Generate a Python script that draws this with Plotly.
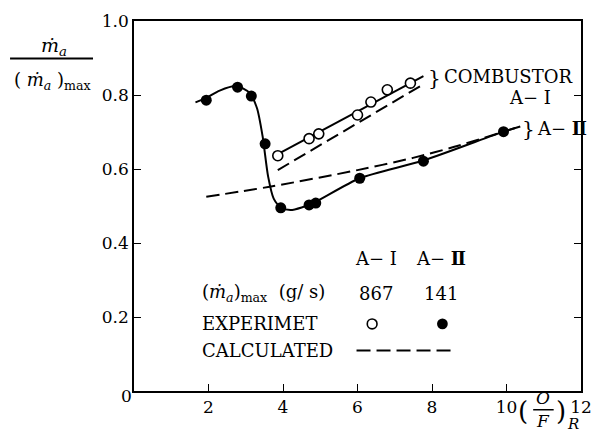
import plotly.graph_objects as go

# ---- data -------------------------------------------------------------
# Combustor A-I : experiment (open circles), fitted line, calculated line
a1_exp_x = [3.86, 4.70, 4.96, 6.00, 6.36, 6.80, 7.42]
a1_exp_y = [0.636, 0.682, 0.695, 0.746, 0.781, 0.814, 0.832]
a1_fit_x = [3.86, 7.77]
a1_fit_y = [0.640, 0.851]
a1_calc_x = [3.86, 7.77]
a1_calc_y = [0.597, 0.829]

# Combustor A-II : experiment (filled circles), fitted curve, calculated curve
a2_exp_x = [1.94, 2.78, 3.15, 3.52, 3.94, 4.70, 4.88, 6.06, 7.77, 9.92]
a2_exp_y = [0.786, 0.821, 0.797, 0.668, 0.495, 0.503, 0.508, 0.575, 0.621, 0.701]
a2_fit_x = [1.65, 1.94, 2.30, 2.75, 3.10, 3.30, 3.45, 3.60, 3.75, 3.95,
            4.20, 4.50, 4.85, 6.06, 7.77, 9.92, 10.37]
a2_fit_y = [0.780, 0.792, 0.812, 0.824, 0.806, 0.765, 0.690, 0.580, 0.520, 0.496,
            0.489, 0.496, 0.510, 0.575, 0.623, 0.701, 0.715]
a2_calc_x = [1.94, 3.64, 6.00, 7.49, 8.60, 10.37]
a2_calc_y = [0.525, 0.552, 0.597, 0.630, 0.660, 0.715]

# key table
key_names = ["A\u2212 I", "A\u2212 <b>\u2161</b>"]
key_flow = ["867", "141"]

x_ticks = [2, 4, 6, 8, 10, 12]
y_ticks = [0.2, 0.4, 0.6, 0.8, 1.0]

# ---- page geometry ----------------------------------------------------
W, H = 603, 435
L, R, T, B = 134, 11, 16, 44
PW, PH = W - L - R, H - T - B

def px(xp):
    return (xp - L) / PW

def py(yp):
    return (H - B - yp) / PH

FONT = "DejaVu Serif"
INK = "black"

fig = go.Figure()

fig.add_trace(go.Scatter(x=a2_calc_x, y=a2_calc_y, mode="lines",
                         line=dict(color=INK, width=2, dash="13px,6px", shape="spline",
                                   smoothing=0.8),
                         hoverinfo="skip"))
fig.add_trace(go.Scatter(x=a1_calc_x, y=a1_calc_y, mode="lines",
                         line=dict(color=INK, width=2, dash="13px,6px"),
                         hoverinfo="skip"))
fig.add_trace(go.Scatter(x=a1_fit_x, y=a1_fit_y, mode="lines",
                         line=dict(color=INK, width=2), hoverinfo="skip"))
fig.add_trace(go.Scatter(x=a2_fit_x, y=a2_fit_y, mode="lines",
                         line=dict(color=INK, width=2, shape="spline", smoothing=0.7),
                         hoverinfo="skip"))
fig.add_trace(go.Scatter(x=a1_exp_x, y=a1_exp_y, mode="markers",
                         marker=dict(symbol="circle", size=10, color="white",
                                     line=dict(color=INK, width=1.6))))
fig.add_trace(go.Scatter(x=a2_exp_x, y=a2_exp_y, mode="markers",
                         marker=dict(symbol="circle", size=11, color=INK,
                                     line=dict(color=INK, width=0))))

ann = []

def text(xp, yp, s, size=18, anchor="left"):
    ann.append(dict(x=px(xp), y=py(yp), xref="paper", yref="paper", text=s,
                    showarrow=False, xanchor=anchor, yanchor="middle",
                    font=dict(family=FONT, size=size, color=INK)))

# y-axis label as a stacked fraction
text(52, 42, "<i>\u1e41</i><sub><i>a</i></sub>", size=19, anchor="center")
text(50, 77, "( <i>\u1e41</i><sub><i>a</i></sub> )<sub>max</sub>", size=18, anchor="center")

# x-axis label (O/F)_R
text(533, 411, "(", size=26, anchor="center")
text(553, 398, "<i>O</i>", size=17, anchor="center")
text(553, 421, "<i>F</i>", size=17, anchor="center")
text(572, 411, ")", size=26, anchor="center")
text(584, 424, "<i>R</i>", size=15, anchor="center")

# shared origin label
text(126, 396, "0", size=17, anchor="center")

# curve labels
text(433, 74, "}", size=20, anchor="left")
text(450, 72, "COMBUSTOR", size=18, anchor="left")
text(540, 94, "A\u2212 I", size=18, anchor="center")
text(529, 125, "}", size=20, anchor="left")
text(545, 125, "A\u2212 <b>\u2161</b>", size=18, anchor="left")

# key table
text(382, 257, key_names[0], size=18, anchor="center")
text(449, 257, key_names[1], size=18, anchor="center")
text(202, 292, "(<i>\u1e41</i><sub><i>a</i></sub>)<sub>max</sub>  (g/ s)", size=18, anchor="left")
text(382, 292, key_flow[0], size=18, anchor="center")
text(449, 292, key_flow[1], size=18, anchor="center")
text(202, 323, "EXPERIMET", size=18, anchor="left")
text(202, 350, "CALCULATED", size=18, anchor="left")

shapes = [
    # fraction bars
    dict(type="line", xref="paper", yref="paper", x0=px(7), x1=px(92), y0=py(54), y1=py(54),
         line=dict(color=INK, width=2)),
    dict(type="line", xref="paper", yref="paper", x0=px(543), x1=px(564), y0=py(410), y1=py(410),
         line=dict(color=INK, width=1.5)),
    # key symbols
    dict(type="circle", xref="paper", yref="paper", x0=px(373), x1=px(383), y0=py(318), y1=py(328),
         line=dict(color=INK, width=1.6), fillcolor="white"),
    dict(type="circle", xref="paper", yref="paper", x0=px(444.5), x1=px(455.5), y0=py(317.5), y1=py(328.5),
         line=dict(color=INK, width=0), fillcolor=INK),
    dict(type="line", xref="paper", yref="paper", x0=px(362), x1=px(461), y0=py(350), y1=py(350),
         line=dict(color=INK, width=2, dash="14px,6px")),
]

axis_common = dict(showline=True, linecolor=INK, linewidth=1.6, ticks="inside",
                   ticklen=7, tickwidth=1.3, tickcolor=INK, showgrid=False, zeroline=False,
                   tickfont=dict(family=FONT, size=17, color=INK))

fig.update_layout(
    width=W, height=H,
    margin=dict(l=L, r=R, t=T, b=B, pad=0),
    paper_bgcolor="white", plot_bgcolor="white",
    showlegend=False,
    xaxis=dict(range=[0, 12], tickvals=x_ticks, ticktext=[str(v) for v in x_ticks],
               mirror=True, **axis_common),
    yaxis=dict(range=[0, 1.0], tickvals=y_ticks, ticktext=[f"{v:.1f}" for v in y_ticks],
               mirror="ticks", **axis_common),
    annotations=ann,
    shapes=shapes,
)

fig.write_html("out.html")
